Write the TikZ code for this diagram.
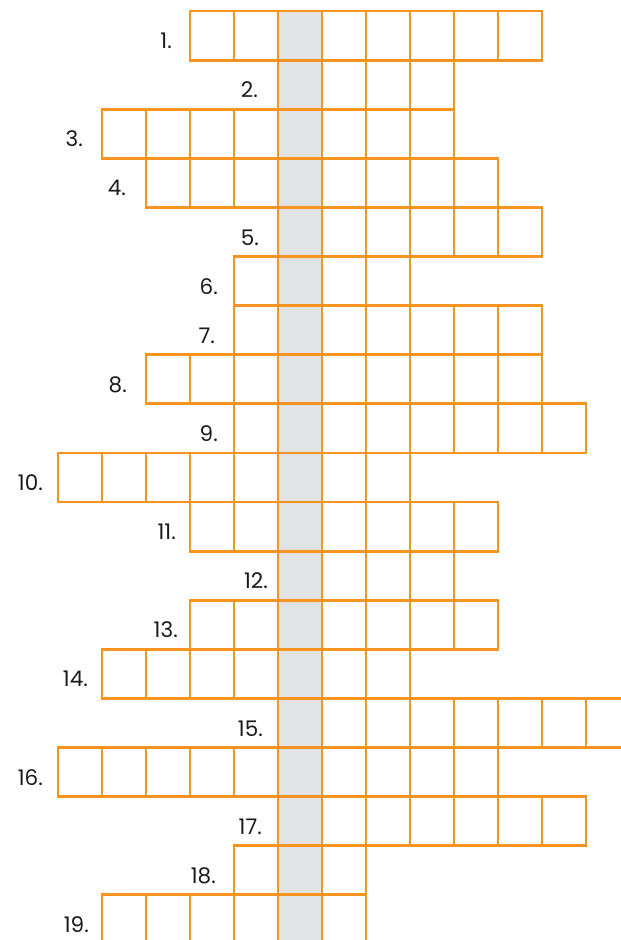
\documentclass[tikz,border=0pt]{standalone}
\usepackage{fontspec}
\setmainfont{Poppins}
\usepackage{tikz}
\usetikzlibrary{positioning}
\definecolor{gridorange}{HTML}{F7931E}
\definecolor{keygrey}{HTML}{E2E3E5}
\definecolor{ink}{HTML}{1A1A1A}
\tikzset{
  cellbox/.style={
    draw=gridorange,
    line width=2.8pt,
    minimum width=44pt,
    minimum height=49.1pt,
    inner sep=0pt,
    outer sep=0pt
  },
  cluenum/.style={
    anchor=base east,
    inner sep=0pt,
    text=ink,
    font=\fontsize{21.5}{21.5}\selectfont
  }
}
\begin{document}
\begin{tikzpicture}[x=1pt,y=-1pt]
  \useasboundingbox (0,0) rectangle (621,940);
  \clip (0,0) rectangle (621,940);
  % shaded key column
  \fill[keygrey] (278,11) rectangle (322,944);
  % row / first column / cells / label gap
  \foreach \r/\s/\n/\g in {1/3/8/18, 2/5/4/20, 3/1/8/19, 4/2/8/20, 5/5/6/19,
      6/4/4/16, 7/4/7/19, 8/2/9/19, 9/4/8/16, 10/0/8/15, 11/3/7/14, 12/5/4/10,
      13/3/7/12, 14/1/7/14, 15/5/8/15, 16/0/10/15, 17/5/7/16, 18/4/3/18, 19/1/6/13}{
    \pgfmathsetmacro{\rowtop}{11+49.1*(\r-1)}
    \foreach \k in {1,...,\n}{
      \node[cellbox] (cell-\r-\k) at ({58+44*(\s+\k-1)+22},{\rowtop+24.55}) {};
    }
    \node[cluenum] (num\r) at ({58+44*\s-\g},{\rowtop+49.1-11.5}) {\r.};
  }
\end{tikzpicture}
\end{document}
